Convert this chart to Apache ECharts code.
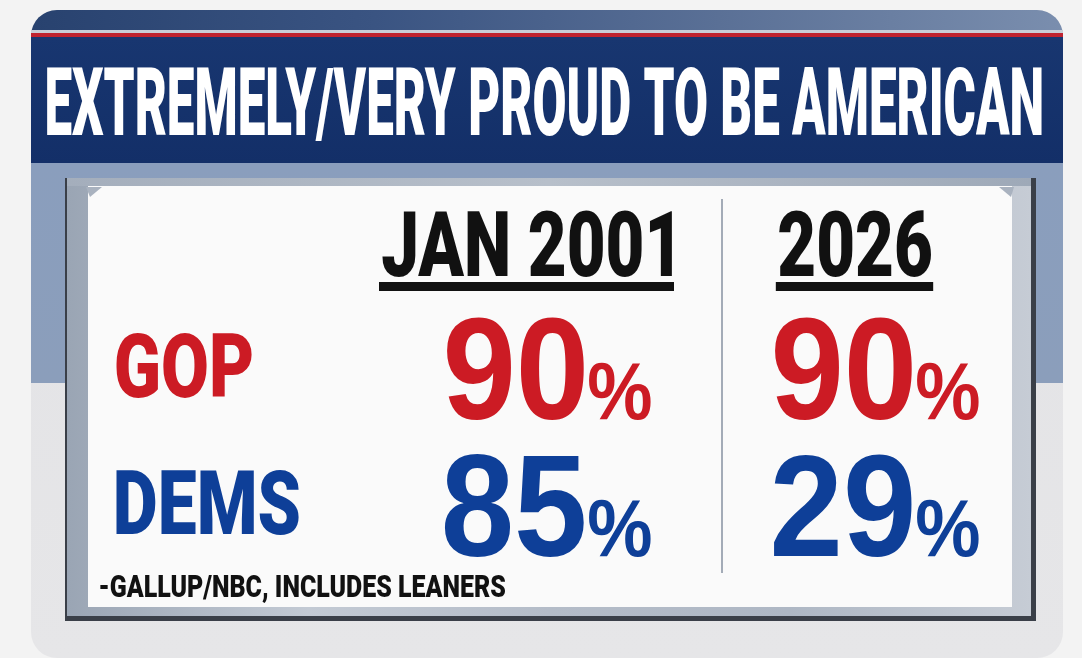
<!DOCTYPE html>
<html><head><meta charset="utf-8">
<script src="https://cdn.jsdelivr.net/npm/echarts@6/dist/echarts.min.js"></script>
<style>html,body{margin:0;padding:0;background:#f3f3f3}#c{width:1082px;height:658px}</style>
</head><body><div id="c"></div>
<script>
// ---- data ----
const titleText = 'EXTREMELY/VERY PROUD TO BE AMERICAN';
const columns = ['JAN 2001', '2026'];
const rows = ['GOP', 'DEMS'];
const gopValues = [90, 90];
const demsValues = [85, 29];
const valueSuffix = '%';
const sourceNote = '-GALLUP/NBC, INCLUDES LEANERS';

// ---- styles ----
const rowColors = ['#cc1b24', '#0e3f98'];
const COND = "Roboto, 'Liberation Sans', sans-serif";
const HELV = "'Liberation Sans', Arial, sans-serif";

const mc = document.createElement('canvas').getContext('2d');
function meas(text, w, fs, fam) {
  mc.font = w + ' ' + fs + 'px ' + fam;
  mc.textBaseline = 'middle'; mc.textAlign = 'left';
  return mc.measureText(text);
}
function sizeFor(ref, w, fam, h) {
  const m = meas(ref, w, 100, fam);
  return 100 * h / (m.actualBoundingBoxAscent + m.actualBoundingBoxDescent);
}
function scaleFor(text, st, width) {
  const m = meas(text, st.w, st.fs, st.fam);
  return width / (m.actualBoundingBoxLeft + m.actualBoundingBoxRight);
}
function mkStyle(fam, w, ref, h, fitText, fitW) {
  const st = { fam: fam, w: w, fs: sizeFor(ref, w, fam, h), s: 1 };
  st.s = scaleFor(fitText, st, fitW);
  return st;
}
function inkWidth(text, st) {
  const m = meas(text, st.w, st.fs, st.fam);
  return (m.actualBoundingBoxLeft + m.actualBoundingBoxRight) * st.s;
}
function textEl(text, st, pos, color) {
  const m = meas(text, st.w, st.fs, st.fam);
  const inkL = -m.actualBoundingBoxLeft, inkR = m.actualBoundingBoxRight;
  let x;
  if (pos.l != null) x = pos.l - inkL * st.s;
  else if (pos.r != null) x = pos.r - inkR * st.s;
  else x = pos.c - (inkL + inkR) / 2 * st.s;
  const rm = meas(pos.ref || 'H', st.w, st.fs, st.fam);
  const y = pos.b - rm.actualBoundingBoxDescent;
  return {
    type: 'text', x: x, y: y, scaleX: st.s, silent: true,
    style: {
      text: text, fontFamily: st.fam, fontWeight: st.w, fontSize: st.fs,
      lineHeight: st.fs, textAlign: 'left', verticalAlign: 'middle', fill: color
    }
  };
}

const numStyle = mkStyle(HELV, 'bold', '0', 103, '90', 137);
const pctStyle = mkStyle(HELV, 'bold', '%', 58, '%', 62);
const rowStyle = mkStyle(COND, '900', 'H', 64, 'DEMS', 183);
const headStyle = mkStyle(COND, '900', 'H', 65, 'JAN 2001', 290);
const titleStyle = mkStyle(COND, '900', 'H', 68, titleText, 995);
const noteStyle = mkStyle(COND, '900', 'H', 23, sourceNote, 405);

const valueRows = [gopValues, demsValues];
const cellData = [];
valueRows.forEach((vals, r) => vals.forEach((v, c) => cellData.push([c, r, v])));

const chart = echarts.init(document.getElementById('c'));

const lg = (x1, y1, x2, y2, stops) => new echarts.graphic.LinearGradient(x1, y1, x2, y2,
  stops.map((c, i) => ({ offset: i / (stops.length - 1), color: c })));

const graphic = [
  // panel
  { type: 'rect', z: -10, shape: { x: 31, y: 10, width: 1032, height: 648, r: 26 },
    style: { fill: lg(0, 0, 0, 1, ['#e2e2e5', '#e6e6e8']) } },
  { type: 'rect', z: -9, shape: { x: 31, y: 163, width: 1032, height: 220 },
    style: { fill: lg(0, 0, 0, 1, ['#8a9ebd', '#8b9ebb']) } },
  { type: 'rect', z: -9, shape: { x: 31, y: 10, width: 1032, height: 28, r: [26, 26, 0, 0] },
    style: { fill: lg(0, 0, 1, 0, ['#28426f', '#3a5482', '#5a7096', '#7a8eae']) } },
  { type: 'rect', z: -8, shape: { x: 31, y: 30, width: 1032, height: 3 }, style: { fill: '#c9ced7' } },
  { type: 'rect', z: -8, shape: { x: 31, y: 33, width: 1032, height: 4 }, style: { fill: '#bf2330' } },
  { type: 'rect', z: -8, shape: { x: 31, y: 37, width: 1032, height: 126 },
    style: { fill: lg(0, 0, 0, 1, ['#183670', '#132f68']) } },
  // frame
  { type: 'rect', z: -7, shape: { x: 65, y: 178, width: 971, height: 443 }, style: { fill: '#3a3f48' } },
  { type: 'rect', z: -6, shape: { x: 67, y: 178, width: 964, height: 438 },
    style: { fill: lg(0, 0, 1, 0, ['#9aa5b4', '#c3cad4', '#b4bcc8', '#aeb7c4', '#c6ccd5']) } },
  { type: 'rect', z: -6, shape: { x: 67, y: 178, width: 964, height: 8 },
    style: { fill: lg(0, 0, 1, 0, ['#a4aebc', '#b7bfca', '#9ea9b8']) } },
  { type: 'rect', z: -5, shape: { x: 88, y: 186, width: 924, height: 421 }, style: { fill: '#fafafa' } },
  { type: 'polygon', z: -4, shape: { points: [[86, 187], [102, 187], [90, 197]] }, style: { fill: '#a9b2bf' } },
  { type: 'polygon', z: -4, shape: { points: [[999, 187], [1014, 187], [1011, 197]] }, style: { fill: '#a9b2bf' } },
  // divider
  { type: 'line', z: -3, shape: { x1: 722, y1: 199, x2: 722, y2: 573 }, style: { stroke: '#a3abb7', lineWidth: 2 } },
  // title & note
  Object.assign(textEl(titleText, titleStyle, { l: 47, b: 135 }, '#ffffff'), { z: 1 }),
  Object.assign(textEl(sourceNote, noteStyle, { l: 100, b: 597 }, '#111111'), { z: 1 })
];

chart.setOption({
  backgroundColor: '#f3f3f3',
  animation: false,
  graphic: graphic,
  grid: { left: 384, width: 656, top: 300, height: 274 },
  xAxis: { type: 'category', data: columns, show: false },
  yAxis: { type: 'category', data: rows, inverse: true, show: false },
  series: [
    {
      type: 'custom', name: 'values', z: 10, silent: true,
      encode: { x: 0, y: 1 },
      data: cellData,
      renderItem: function (params, api) {
        const c = api.value(0), r = api.value(1), v = api.value(2);
        const p = api.coord([c, r]);
        const color = rowColors[r];
        return {
          type: 'group', children: [
            textEl(String(v), numStyle, { r: p[0] + 36, b: p[1] + 51.5, ref: '0' }, color),
            textEl(valueSuffix, pctStyle, { l: p[0] + 41, b: p[1] + 51.5, ref: '%' }, color)
          ]
        };
      }
    },
    {
      type: 'custom', name: 'headers', z: 10, silent: true,
      encode: { x: 0, y: 1 },
      data: columns.map((_, i) => [i, 0]),
      renderItem: function (params, api) {
        const p = api.coord([api.value(0), 0]);
        const t = columns[params.dataIndex];
        const cx = p[0] - 21, b = p[1] - 92.5;
        const w = inkWidth(t, headStyle);
        return {
          type: 'group', children: [
            textEl(t, headStyle, { c: cx, b: b }, '#111111'),
            { type: 'rect', shape: { x: cx - w / 2 - 3, y: b + 6, width: w + 5, height: 9 }, style: { fill: '#111111' } }
          ]
        };
      }
    },
    {
      type: 'custom', name: 'rowLabels', z: 10, silent: true,
      encode: { x: 0, y: 1 },
      data: rows.map((_, i) => [0, i]),
      renderItem: function (params, api) {
        const p = api.coord([0, api.value(1)]);
        const r = params.dataIndex;
        return textEl(rows[r], rowStyle, { l: 116, b: p[1] + 29 }, rowColors[r]);
      }
    }
  ]
});
</script>
</body></html>
